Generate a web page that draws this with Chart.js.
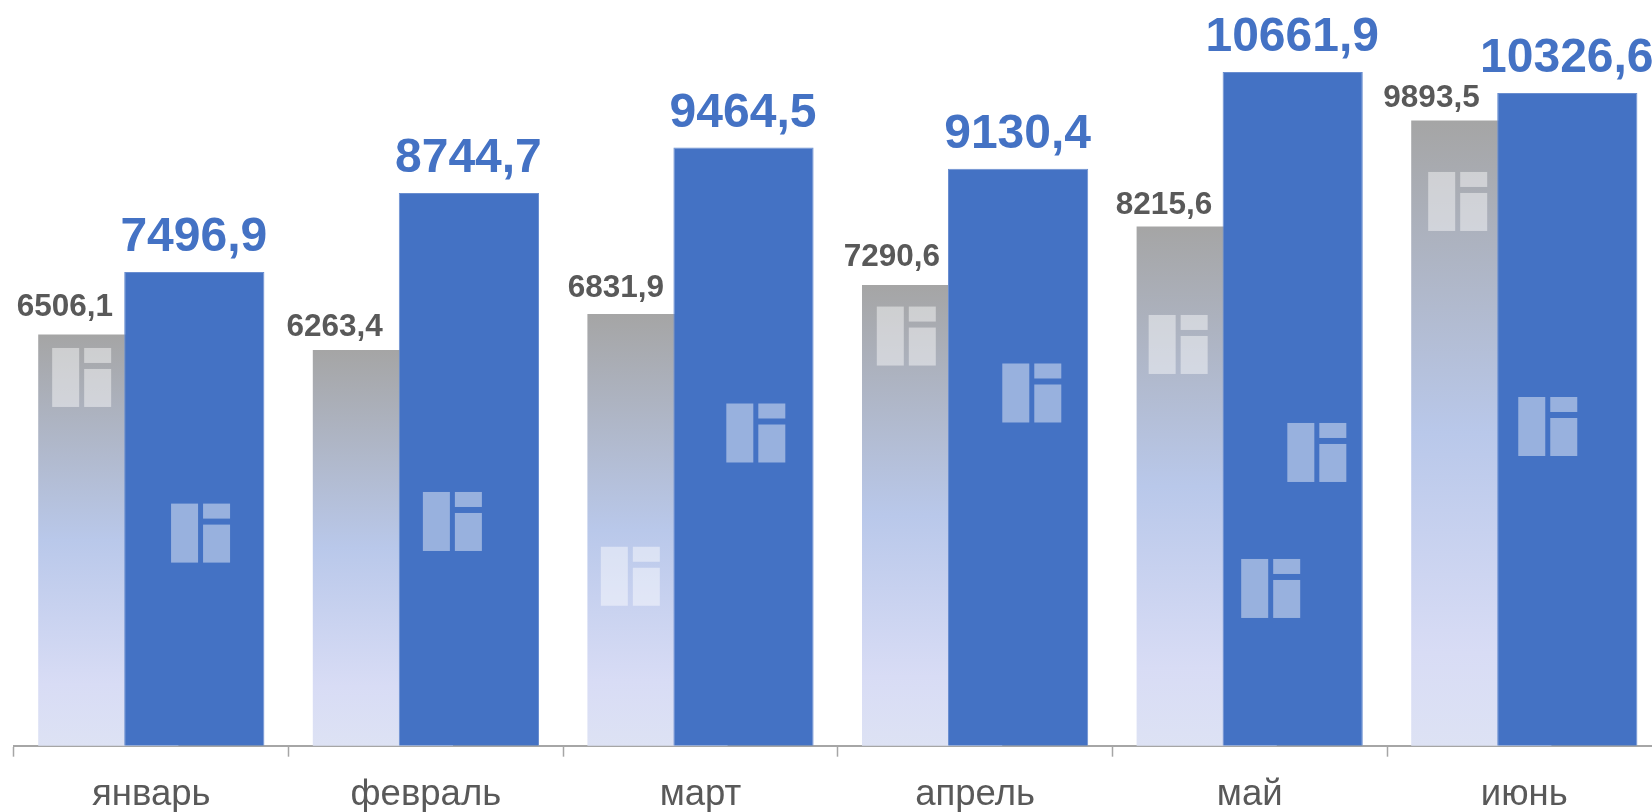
<!DOCTYPE html>
<html lang="ru">
<head>
<meta charset="utf-8">
<style>
html,body{margin:0;padding:0;background:#fff;overflow:hidden;width:1652px;height:812px}
canvas{display:block}
</style>
<script src="https://cdn.jsdelivr.net/npm/chart.js@4/dist/chart.umd.min.js"></script>
</head>
<body>
<canvas id="c" width="1700" height="812"></canvas>
<script>
const categories = ['январь','февраль','март','апрель','май','июнь'];
const previousYear = [6506.1, 6263.4, 6831.9, 7290.6, 8215.6, 9893.5];
const currentYear = [7496.9, 8744.7, 9464.5, 9130.4, 10661.9, 10326.6];

// hand-placed grey labels: horizontal shift from category centre, gap above bar
const grayLabelShift = [-86.5, -91.3, -84.6, -83.3, -85.7, -92.8];
const grayLabelGap = [19, 13.7, 16.8, 19, 12.6, 13.7];

// watermark glyphs: position along the category axis, top edge on the value axis
const iconCategoryPos = [0.139, 0.572, 1.489, 2.137, 2.594, 3.142, 3.599, 4.132, 4.637, 4.469, 5.150, 5.478];
const iconTopValue = [6294, 3831, 4015, 3148, 5415, 6949, 6048, 6816, 5107, 2955, 9079, 5518];

const fmt = v => v.toFixed(1).replace('.', ',');

function grayGradient(ctx) {
  const chart = ctx.chart;
  if (!chart.chartArea || ctx.dataIndex === undefined) return '#a5a5a5';
  const y = chart.scales.y;
  const top = y.getPixelForValue(previousYear[ctx.dataIndex]);
  const g = chart.ctx.createLinearGradient(0, top, 0, y.bottom);
  g.addColorStop(0, '#a5a5a5');
  g.addColorStop(0.5, '#b9c8ea');
  g.addColorStop(0.85, '#d8dcf5');
  g.addColorStop(1, '#dde2f4');
  return g;
}

const overlayPlugin = {
  id: 'overlay',
  // grey bars go under the blue ones although they sit first in the group
  beforeDatasetsDraw(chart) {
    chart.getDatasetMeta(0).controller.draw();
  },
  beforeDatasetDraw(chart, args) {
    if (args.index === 0) return false;
  },
  afterDatasetsDraw(chart) {
    const { ctx, scales: { x, y } } = chart;
    const unit = x.width / categories.length;
    ctx.save();
    // watermarks
    ctx.fillStyle = 'rgba(255,255,255,0.45)';
    iconCategoryPos.forEach((p, i) => {
      const l = x.left + p * unit;
      const t = y.getPixelForValue(iconTopValue[i]);
      ctx.fillRect(l, t, 27, 59);
      ctx.fillRect(l + 32, t, 27, 15);
      ctx.fillRect(l + 32, t + 21, 27, 38);
    });
    // value labels
    ctx.textAlign = 'center';
    ctx.textBaseline = 'alphabetic';
    ctx.font = 'bold 31.5px "Liberation Sans", Arial, sans-serif';
    ctx.fillStyle = '#595959';
    previousYear.forEach((v, i) => {
      ctx.fillText(fmt(v), x.getPixelForValue(i) + grayLabelShift[i], y.getPixelForValue(v) - grayLabelGap[i]);
    });
    ctx.font = 'bold 48px "Liberation Sans", Arial, sans-serif';
    ctx.fillStyle = '#4472c4';
    const blue = chart.getDatasetMeta(1);
    currentYear.forEach((v, i) => {
      ctx.fillText(fmt(v), blue.data[i].x - 0.5, y.getPixelForValue(v) - 21);
    });
    ctx.restore();
  }
};

new Chart(document.getElementById('c'), {
  type: 'bar',
  data: {
    labels: categories,
    datasets: [
      { label: 'previous', data: previousYear, backgroundColor: grayGradient,
        categoryPercentage: 0.6264, barPercentage: 1.63, borderWidth: 0 },
      { label: 'current', data: currentYear, backgroundColor: '#4472c4',
        categoryPercentage: 0.6264, barPercentage: 1.63,
        borderWidth: 1, borderColor: '#6a8ed0' }
    ]
  },
  options: {
    responsive: false,
    animation: false,
    layout: { padding: { left: 14, right: 38.4, top: 0, bottom: 0 } },
    plugins: { legend: { display: false }, tooltip: { enabled: false } },
    scales: {
      x: {
        afterFit(s) { s.height = 66.3; },
        grid: { drawOnChartArea: false, drawTicks: true, tickLength: 11, tickColor: '#a6a6a6', tickWidth: 1.5 },
        border: { color: '#a6a6a6', width: 2 },
        ticks: { color: '#595959', padding: 16, maxRotation: 0, autoSkip: false,
                 font: { family: '"Liberation Sans", Arial, sans-serif', size: 36.5 } }
      },
      y: { display: false, min: 0, max: 11800 }
    }
  },
  plugins: [overlayPlugin]
});
</script>
</body>
</html>
